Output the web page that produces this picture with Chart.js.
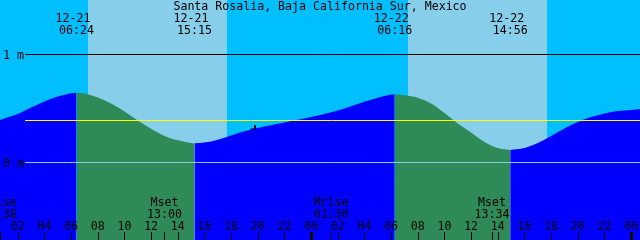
<!DOCTYPE html>
<html>
<head>
<meta charset="utf-8">
<script src="https://cdn.jsdelivr.net/npm/chart.js@4.4.1/dist/chart.umd.min.js"></script>
<style>
  html, body { margin: 0; padding: 0; background: #00bfff; }
  canvas { display: block; }
</style>
</head>
<body>
<canvas id="tideChart" width="640" height="240"></canvas>
<script>
// time in hours from 12-21 00:00, height in metres
const hours = [0.667, 1, 2, 3, 4, 5, 6, 6.4, 7, 8, 9, 10, 11, 12, 13, 14, 15, 15.25,
  16, 17, 18, 19, 20, 21, 22, 23, 24, 25, 26, 27, 28, 29, 30, 30.267, 31, 32, 33,
  34, 35, 36, 37, 38, 38.933, 40, 41, 42, 43, 44, 45, 46, 47, 48, 48.667];
const heights = [0.392, 0.406, 0.447, 0.507, 0.563, 0.609, 0.640, 0.644, 0.637, 0.600,
  0.544, 0.470, 0.387, 0.310, 0.245, 0.205, 0.179, 0.176,
  0.183, 0.210, 0.249, 0.287, 0.319, 0.344, 0.369, 0.394, 0.419, 0.448, 0.480, 0.519,
  0.560, 0.597, 0.627, 0.630, 0.621, 0.599, 0.544,
  0.456, 0.359, 0.276, 0.188, 0.132, 0.114, 0.132, 0.179, 0.244, 0.313, 0.373, 0.419,
  0.452, 0.475, 0.484, 0.493];

const extremeTimes = [6.4, 15.25, 30.267, 38.933];
const extremeDates = ['12-21', '12-21', '12-22', '12-22'];
const extremeLabels = ['06:24', '15:15', '06:16', '14:56'];

const sunrise = [7.267, 31.267];
const sunset = [17.69, 41.7];

const moonTimes = [0.633, 13.0, 25.5, 37.567];
const moonEvents = ['Mrise', 'Mset', 'Mrise', 'Mset'];
const moonLabels = ['00:38', '13:00', '01:30', '13:34'];

const levelMarks = [1, 0];
const levelNames = ['1 m', '0 m'];
const meanLevel = 0.389;
const nowMark = [{x: 19.8, y: 0.305}];

const hourTicks = [2, 4, 6, 8, 10, 12, 14, 16, 18, 20, 22, 24, 26, 28, 30, 32, 34, 36, 38, 40, 42, 44, 46, 48];

// ebb = falling water between a high and the next low
const ebbRanges = [[6.4, 15.25], [30.267, 38.933]];
const inEbb = t => ebbRanges.some(([a, b]) => t >= a && t <= b);
const inFlood = t => !ebbRanges.some(([a, b]) => t > a && t < b);

const floodData = hours.map((t, i) => ({x: t, y: inFlood(t) ? heights[i] : null}));
const ebbData = hours.map((t, i) => ({x: t, y: inEbb(t) ? heights[i] : null}));

const FONT = "11.6px 'DejaVu Sans Mono', 'Liberation Mono', monospace";

const tidePainter = {
  id: 'tidePainter',
  beforeDatasetsDraw(chart) {
    const {ctx, chartArea: area, scales: {x}} = chart;
    ctx.save();
    ctx.fillStyle = '#00bfff';
    ctx.fillRect(area.left, area.top, area.width, area.height);
    ctx.fillStyle = '#87ceeb';
    sunrise.forEach((t, i) => {
      const x0 = x.getPixelForValue(t);
      const x1 = x.getPixelForValue(sunset[i]);
      ctx.fillRect(x0, area.top, x1 - x0, area.height);
    });
    ctx.restore();
  },
  afterDatasetsDraw(chart) {
    const {ctx, chartArea: area, scales: {x, y}} = chart;
    ctx.save();
    ctx.lineWidth = 1;

    // level lines
    const lineStart = 25;
    const hline = (v, color) => {
      const py = Math.round(y.getPixelForValue(v)) + 0.5;
      ctx.strokeStyle = color;
      ctx.beginPath();
      ctx.moveTo(lineStart, py);
      ctx.lineTo(area.right, py);
      ctx.stroke();
    };
    hline(levelMarks[0], '#000000');
    hline(meanLevel, '#ffff00');
    hline(levelMarks[1], '#87ceeb');

    ctx.font = FONT;
    ctx.fillStyle = '#000000';
    ctx.textBaseline = 'alphabetic';

    ctx.textAlign = 'left';
    levelMarks.forEach((v, i) => {
      ctx.fillText(levelNames[i], 3, y.getPixelForValue(v) + 4.5);
    });

    ctx.textAlign = 'center';
    ctx.fillText('Santa Rosalia, Baja California Sur, Mexico', 320, 10);

    extremeTimes.forEach((t, i) => {
      const px = x.getPixelForValue(t);
      ctx.fillText(extremeDates[i], px - 3.5, 22);
      ctx.fillText(extremeLabels[i], px, 34);
    });

    moonTimes.forEach((t, i) => {
      const px = x.getPixelForValue(t);
      ctx.fillText(moonEvents[i], px, 206);
      ctx.fillText(moonLabels[i], px, 218);
      ctx.fillRect(Math.round(px), 232, 1, 8);
    });

    hourTicks.forEach(h => {
      const px = x.getPixelForValue(h);
      ctx.fillText(String(h % 24).padStart(2, '0'), px, 230);
      if (h % 24 === 0) {
        ctx.fillRect(Math.round(px) - 1, 232, 3, 8);
      } else {
        ctx.fillRect(Math.round(px), 232, 1, 8);
      }
    });
    ctx.restore();
  }
};

new Chart(document.getElementById('tideChart').getContext('2d'), {
  type: 'line',
  data: {
    datasets: [{
      label: 'Flood',
      data: floodData,
      backgroundColor: '#0000ff',
      borderWidth: 0,
      pointRadius: 0,
      fill: 'start',
      cubicInterpolationMode: 'monotone'
    }, {
      label: 'Ebb',
      data: ebbData,
      backgroundColor: '#2e8b57',
      borderWidth: 0,
      pointRadius: 0,
      fill: 'start',
      cubicInterpolationMode: 'monotone'
    }, {
      type: 'scatter',
      label: 'Now',
      data: nowMark,
      pointStyle: 'cross',
      pointRadius: 4.5,
      borderColor: '#000000',
      borderWidth: 2
    }]
  },
  options: {
    responsive: false,
    animation: false,
    layout: { padding: 0, autoPadding: false },
    scales: {
      x: { type: 'linear', min: 0.667, max: 48.667, display: false },
      y: { min: -0.719, max: 1.503, display: false }
    },
    plugins: {
      legend: { display: false },
      tooltip: { enabled: false }
    }
  },
  plugins: [tidePainter]
});
</script>
</body>
</html>
